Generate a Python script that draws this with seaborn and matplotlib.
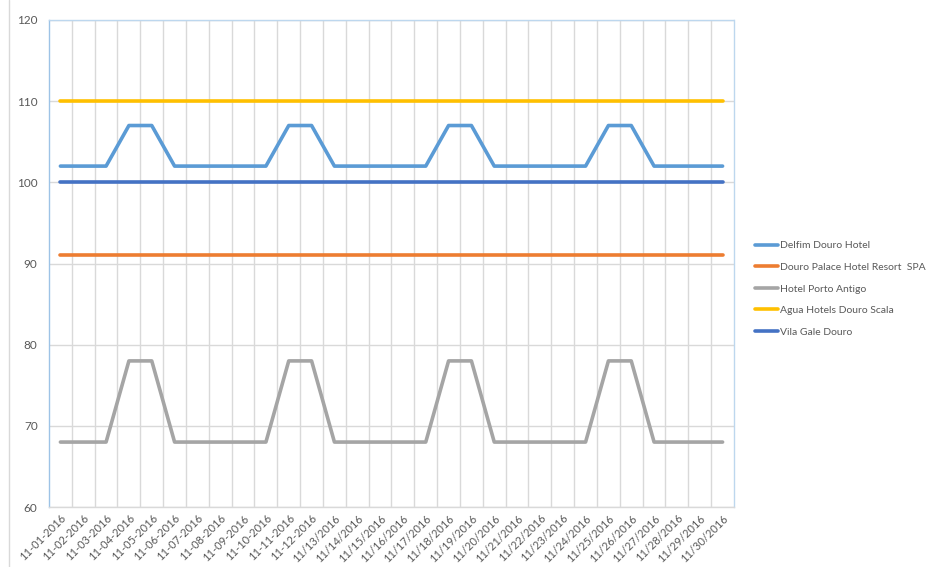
import matplotlib
matplotlib.use("Agg")
import matplotlib.pyplot as plt
from matplotlib.lines import Line2D
from matplotlib.ticker import FixedLocator, MultipleLocator
import seaborn as sns
import pandas as pd

# Day labels as shown on the category axis
dates = [f"11-{d:02d}-2016" for d in range(1, 13)] + [f"11/{d:02d}/2016" for d in range(13, 31)]

delfim = [102, 102, 102, 107, 107, 102, 102, 102, 102, 102,
          107, 107, 102, 102, 102, 102, 102, 107, 107, 102,
          102, 102, 102, 102, 107, 107, 102, 102, 102, 102]
douro_palace = [91] * 30
porto_antigo = [68, 68, 68, 78, 78, 68, 68, 68, 68, 68,
                78, 78, 68, 68, 68, 68, 68, 78, 78, 68,
                68, 68, 68, 68, 78, 78, 68, 68, 68, 68]
agua = [110] * 30
vila_gale = [100] * 30

hotels = ["Delfim Douro Hotel", "Douro Palace Hotel Resort  SPA", "Hotel Porto Antigo",
          "Agua Hotels Douro Scala", "Vila Gale Douro"]
series = [delfim, douro_palace, porto_antigo, agua, vila_gale]
colors = ["#5B9BD5", "#ED7D31", "#A5A5A5", "#FFC000", "#4472C4"]

df = pd.concat(
    [pd.DataFrame({"date": dates, "price": vals, "hotel": name}) for name, vals in zip(hotels, series)],
    ignore_index=True,
)

sns.set_theme(style="white")
plt.rcParams["font.family"] = ["Lato", "DejaVu Sans"]

fig = plt.figure(figsize=(9.28, 5.67), dpi=100)
ax = fig.add_axes([49 / 928, 1 - 507 / 567, 685 / 928, 487 / 567])

sns.lineplot(data=df, x="date", y="price", hue="hotel", palette=colors,
             hue_order=hotels, sort=False, linewidth=2.6, ax=ax, legend=False)

ax.set_xlim(-0.5, len(dates) - 0.5)
ax.set_ylim(60, 120)
ax.yaxis.set_major_locator(MultipleLocator(10))
ax.set_xlabel("")
ax.set_ylabel("")

# Category boundaries carry the vertical gridlines
ax.xaxis.set_minor_locator(FixedLocator([i + 0.5 for i in range(len(dates) - 1)]))
ax.grid(axis="x", which="minor", color="#D9D9D9", linewidth=1)
ax.grid(axis="y", which="major", color="#D9D9D9", linewidth=1)
ax.set_axisbelow(True)

ax.tick_params(axis="x", which="both", length=0, labelsize=8, labelcolor="#595959", pad=4)
ax.tick_params(axis="y", length=2.2, color="#D9D9D9", labelsize=8.5, labelcolor="#595959", pad=6)
ax.set_xticks(range(len(dates)))
ax.set_xticklabels(dates, rotation=45, ha="right", rotation_mode="anchor")

ax.spines["left"].set_color("#9DC3E6")
ax.spines["bottom"].set_color("#D9D9D9")
for s in ("top", "right"):
    ax.spines[s].set_color("#BDD7EE")
    ax.spines[s].set_linestyle((0, (1, 1)))
for s in ax.spines.values():
    s.set_linewidth(1)

handles = [Line2D([], [], color=c, linewidth=2.6) for c in colors]
fig.legend(handles, hotels, loc="upper left", bbox_to_anchor=(753 / 928, 1 - 239 / 567),
           frameon=False, fontsize=7.5, labelcolor="#595959", handlelength=2.2,
           handletextpad=0.15, labelspacing=1.18, borderaxespad=0, borderpad=0.2)

# Chart-area edge on the left
fig.add_artist(Line2D([9.5 / 928, 9.5 / 928], [0, 1], color="#D9D9D9", linewidth=1,
                      transform=fig.transFigure))

fig.savefig("out.png", dpi=100, facecolor="white")
